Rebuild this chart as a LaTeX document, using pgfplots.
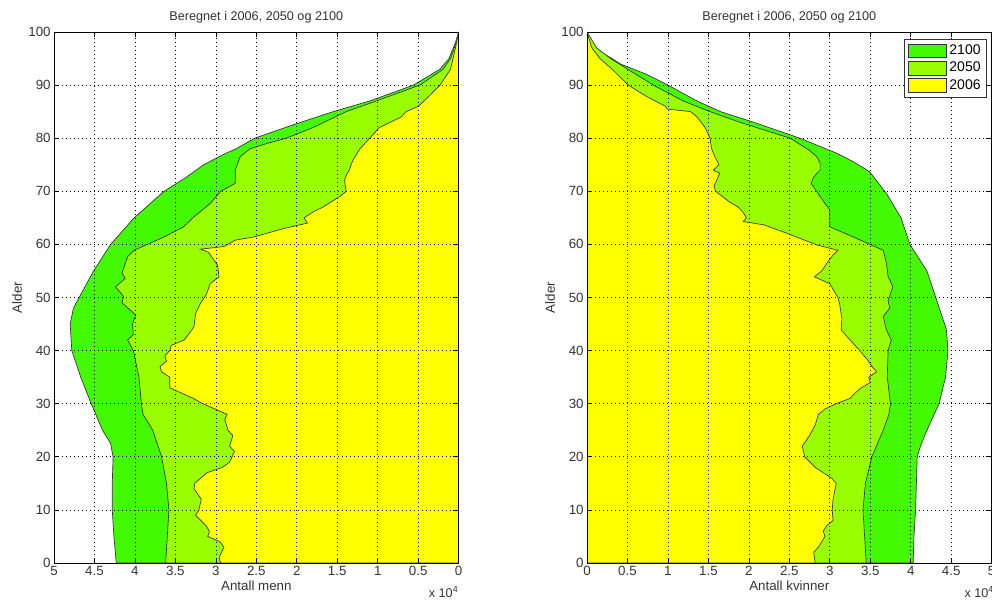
\documentclass[border=0pt]{standalone}
\usepackage{pgfplots}
\pgfplotsset{compat=1.18}
\usepackage{fontspec}
\setmainfont{Liberation Sans}
\definecolor{cA}{RGB}{68,250,0}
\definecolor{cB}{RGB}{153,255,0}
\definecolor{cC}{RGB}{255,255,0}
\pgfplotsset{
  pyr/.style={
    scale only axis, width=303.5pt, height=398.25pt,
    xmin=0, xmax=5, ymin=0, ymax=100,
    xtick={0,0.5,...,5}, ytick={0,10,...,100},
    xticklabels={0,0.5,1,1.5,2,2.5,3,3.5,4,4.5,5},
    grid=major,
    major grid style={black, line width=0.5pt, dash pattern=on 0.6pt off 2.4pt},
    axis on top,
    tick align=inside, major tick length=4pt,
    tick style={black, line width=0.5pt},
    axis line style={black, line width=0.6pt},
    /pgf/number format/assume math mode=true,
    tick label style={font=\fontsize{10}{12}\selectfont, text=black!80},
    label style={font=\fontsize{10}{12}\selectfont, text=black!80},
    title style={font=\fontsize{9.5}{11}\selectfont, text=black!80, yshift=-3pt},
    title={Beregnet i 2006, 2050 og 2100},
    ylabel={Alder},
    xlabel style={yshift=3pt},
    ylabel style={yshift=-2pt},
    yticklabel style={xshift=1pt},
    xticklabel style={yshift=1pt},
  },
  ar/.style={draw=black!80, line width=0.5pt, fill=#1},
}
\begin{document}
\begin{tikzpicture}[x=1pt,y=1pt]
\path[use as bounding box] (0,0) rectangle (744,450);
% ---------- men (left) ----------
\begin{axis}[pyr, name=L, at={(40.5pt,27.75pt)}, anchor=south west, x dir=reverse,
  xlabel={Antall menn}]
\addplot[ar=cA] coordinates {
(0,0) (4.23,0) (4.26,5) (4.28,10) (4.28,15) (4.27,20) (4.30,22.5) (4.40,25) (4.54,30) (4.67,35)
(4.78,40) (4.80,45) (4.76,48) (4.69,50) (4.51,55) (4.30,60) (4.01,65) (3.64,70) (3.38,72.5)
(3.15,75) (2.90,77) (2.75,78) (2.52,80) (2.05,82.5) (1.55,85) (1.10,87) (0.56,90) (0.23,93)
(0.12,95) (0.04,98) (0,100)};
\addplot[ar=cB] coordinates {
(0,0) (3.62,0) (3.60,5) (3.58,10) (3.61,15) (3.67,20) (3.78,25) (3.90,28) (3.92,30) (3.95,35)
(4.02,40) (4.09,42) (4.02,43) (4.03,45) (3.99,46.7) (4.16,49) (4.14,50.2) (4.24,52) (4.12,53.6)
(4.16,54.6) (4.09,57.7) (4.01,58.9) (3.64,61.4) (3.40,63.3) (3.27,65.2) (3.07,67.7) (2.94,70)
(2.76,71.5) (2.76,74) (2.70,76.5) (2.58,78) (2.37,79) (2.13,80) (1.80,82) (1.39,85) (1.02,87)
(0.48,90) (0.19,93) (0.10,95) (0.03,98) (0,100)};
\addplot[ar=cC] coordinates {
(0,0) (2.94,0) (2.96,1) (2.90,3) (2.95,4) (3.10,5) (3.08,6) (3.12,7) (3.25,9) (3.21,10)
(3.18,12) (3.27,14) (3.26,15) (3.11,17) (2.92,18) (2.83,19) (2.77,21) (2.83,22) (2.79,24)
(2.85,25) (2.89,27) (2.86,28) (3.16,30) (3.28,31) (3.57,33) (3.57,35) (3.67,36) (3.69,37)
(3.61,38) (3.63,39) (3.57,40) (3.55,41) (3.39,42) (3.34,43) (3.27,44.5) (3.25,47) (3.19,48.9)
(3.12,50.5) (3.07,52.6) (2.96,53.9) (2.98,56.1) (3.09,58.5) (3.19,59.1) (2.90,59.6) (2.76,60.8)
(2.53,61.4) (2.16,63) (1.87,64) (1.91,65) (1.79,66.2) (1.68,67) (1.47,69) (1.39,70) (1.41,72)
(1.39,73) (1.35,74) (1.33,75) (1.30,76) (1.22,78) (1.10,80) (0.98,82) (0.71,84) (0.65,85)
(0.50,86) (0.36,88) (0.23,90) (0.10,93) (0.04,97) (0,100)};
\end{axis}
% ---------- women (right) ----------
\begin{axis}[pyr, name=R, at={(440.25pt,27.75pt)}, anchor=south west,
  xlabel={Antall kvinner},
  legend style={at={(1,1)}, anchor=north east, xshift=-3.5pt, yshift=-5pt,
    draw=black!80, line width=0.6pt, font=\fontsize{10.5}{12}\selectfont,
    row sep=0pt, inner sep=2.5pt},
  legend cell align=left,
  area legend,
  legend image code/.code={\draw[#1, line width=0.5pt] (0cm,-0.18cm) rectangle (1.0cm,0.18cm);}]
\addplot[ar=cA] coordinates {
(0,0) (4.03,0) (4.04,5) (4.06,10) (4.07,15) (4.08,20) (4.12,22) (4.20,25) (4.35,30) (4.43,35)
(4.46,40) (4.44,44) (4.32,49.5) (4.20,55) (3.99,60) (3.88,65) (3.70,69.6) (3.49,73.7)
(3.30,75.5) (3.08,77.2) (2.63,80) (2.06,83) (1.65,85) (1.36,87) (1.00,90) (0.74,92) (0.41,94)
(0.31,95) (0.16,96.3) (0.06,98) (0,100)};
\addlegendentry{2100}
\addplot[ar=cB] coordinates {
(0,0) (3.45,0) (3.43,5) (3.41,10) (3.44,15) (3.52,20) (3.66,25) (3.73,28) (3.75,30) (3.71,35)
(3.72,40) (3.76,42) (3.70,43.9) (3.66,46.4) (3.74,48) (3.72,49.5) (3.78,52) (3.72,54)
(3.70,56.4) (3.66,58.9) (3.29,61.4) (3.00,63.3) (3.00,66.5) (2.88,69) (2.77,71.5) (2.80,72.7)
(2.88,74) (2.88,75.3) (2.84,76.5) (2.74,77.8) (2.51,80) (1.89,83) (1.52,85) (1.19,87)
(0.82,90) (0.29,95) (0.12,97) (0,100)};
\addlegendentry{2050}
\addplot[ar=cC] coordinates {
(0,0) (2.82,0) (2.80,2) (2.86,3) (2.94,5) (2.92,6) (2.96,7) (3.04,8) (3.03,10) (3.04,12)
(3.08,15) (3.02,16) (2.92,17) (2.82,18) (2.69,20) (2.66,22) (2.75,24) (2.82,26) (2.86,28)
(2.94,29) (3.08,30) (3.25,31) (3.31,32) (3.39,33) (3.50,34) (3.48,35) (3.58,36) (3.52,37)
(3.48,38) (3.37,40) (3.25,42) (3.14,43.9) (3.15,46) (3.12,48.9) (3.10,50) (3.00,52.6)
(2.81,53.9) (2.90,55) (2.97,56.6) (3.04,58) (3.10,58.9) (2.84,59.9) (2.62,61.2) (2.47,62.1)
(2.18,63.7) (1.93,64.3) (1.97,65) (1.93,66) (1.87,67) (1.76,68) (1.59,70) (1.57,71) (1.60,72)
(1.64,73.4) (1.56,74) (1.63,75) (1.58,76.5) (1.54,78) (1.52,80) (1.46,82) (1.36,84) (1.28,85)
(0.99,85.5) (0.97,86) (0.72,88) (0.51,90) (0.31,93) (0.16,95) (0.06,97) (0,100)};
\addlegendentry{2006}
\end{axis}
\node[anchor=base east, font=\fontsize{9.5}{11}\selectfont, text=black!80, inner sep=0pt]
  at ([yshift=-26pt]L.south east) {x 10\textsuperscript{4}};
\node[anchor=base east, font=\fontsize{9.5}{11}\selectfont, text=black!80, inner sep=0pt]
  at ([yshift=-26pt,xshift=2pt]R.south east) {x 10\textsuperscript{4}};
\end{tikzpicture}
\end{document}
